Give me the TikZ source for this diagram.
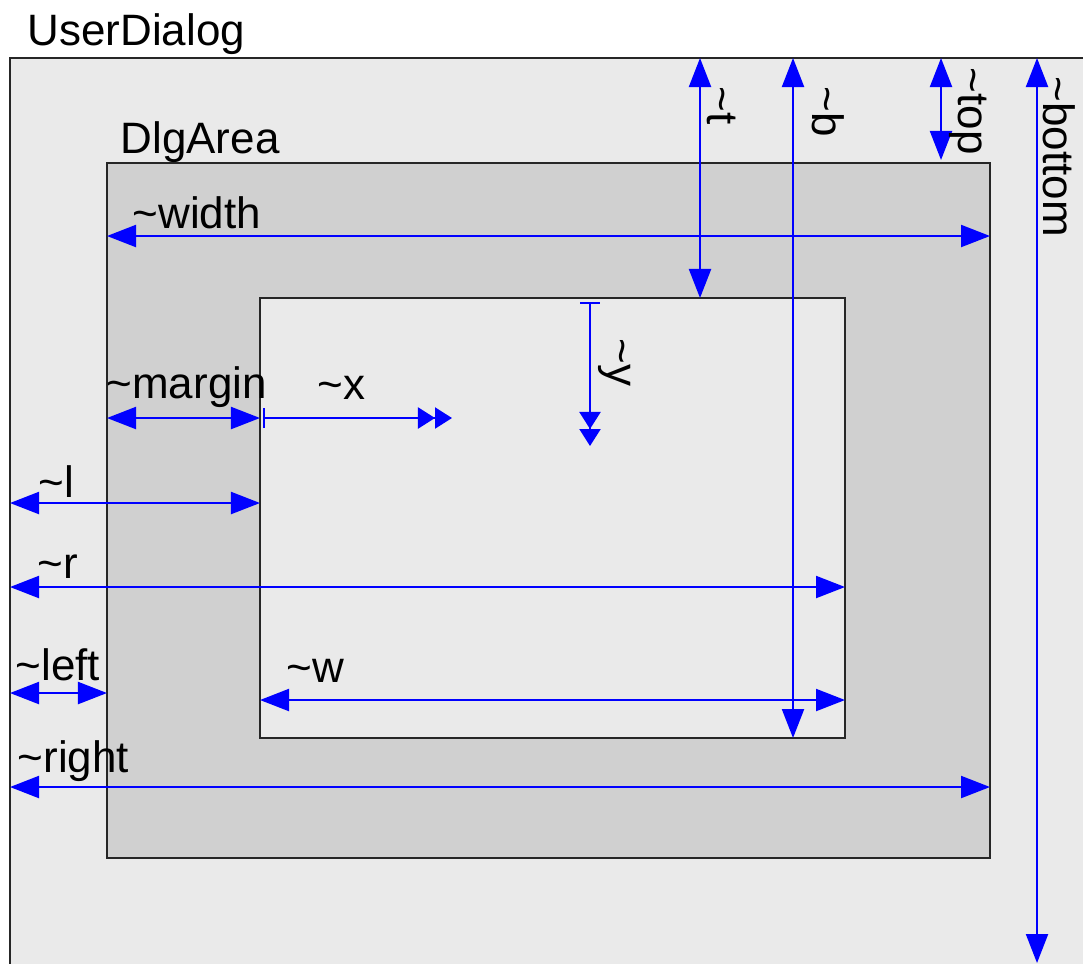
\documentclass[tikz,border=0pt]{standalone}
\usepackage{fontspec}
\setmainfont{Liberation Sans}
\usetikzlibrary{arrows.meta}

\newcommand{\tld}{\textasciitilde}
\definecolor{dlgpale}{HTML}{EAEAEA}
\definecolor{dlggray}{HTML}{D0D0D0}
\definecolor{dimblue}{HTML}{0000FF}

\tikzset{
  box/.style={draw=black!85, line width=0.6pt},
  lbl/.style={inner sep=0pt, font=\fontsize{12.5}{14}\selectfont},
  dimline/.style={dimblue, line width=0.6pt,
    {Triangle[length=2.9mm,width=2.2mm]}-{Triangle[length=2.9mm,width=2.2mm]}},
  offset/.style={dimblue, line width=0.6pt,
    {Bar[width=2mm]}-{Triangle[length=1.7mm,width=2.1mm]Triangle[length=1.7mm,width=2.1mm]}}
}

\begin{document}
\begin{tikzpicture}[x=0.01cm, y=-0.01cm]
  \clip (0,0) rectangle (1083,963);

  \coordinate (ud1) at (10,58);   % user dialog, top left
  \coordinate (ud2) at (1100,980);
  \coordinate (da1) at (107,163); % dlg area
  \coordinate (da2) at (990,858);
  \coordinate (in1) at (260,298); % inner rect
  \coordinate (in2) at (845,738);

  \draw[box, fill=dlgpale] (ud1) rectangle (ud2);
  \draw[box, fill=dlggray] (da1) rectangle (da2);
  \draw[box, fill=dlgpale] (in1) rectangle (in2);

  \node[lbl, anchor=base west] (user) at (27,45) {UserDialog};
  \node[lbl, anchor=base west] (dlg) at (120,153) {DlgArea};

  % horizontal measures
  \coordinate (wd1) at (107,236);  \coordinate (wd2) at (990,236);
  \coordinate (mg1) at (107,418);  \coordinate (mg2) at (260,418);
  \coordinate (x1) at (263,418);   \coordinate (x2) at (452,418);
  \coordinate (l1) at (10,503);    \coordinate (l2) at (260,503);
  \coordinate (r1) at (10,587);    \coordinate (r2) at (845,587);
  \coordinate (lf1) at (10,693);   \coordinate (lf2) at (107,693);
  \coordinate (w1) at (260,700);   \coordinate (w2) at (845,700);
  \coordinate (rt1) at (10,787);   \coordinate (rt2) at (990,787);

  \draw[dimline] (wd1) -- (wd2);
  \draw[dimline] (mg1) -- (mg2);
  \draw[offset] (x1) -- (x2);
  \draw[dimline] (l1) -- (l2);
  \draw[dimline] (r1) -- (r2);
  \draw[dimline] (lf1) -- (lf2);
  \draw[dimline] (w1) -- (w2);
  \draw[dimline] (rt1) -- (rt2);

  \node[lbl, anchor=base west] (width) at (132,228) {\tld width};
  \node[lbl, anchor=base west] (margin) at (106,398) {\tld margin};
  \node[lbl, anchor=base west] (xlbl) at (317,399) {\tld x};
  \node[lbl, anchor=base west] (llbl) at (38,497) {\tld l};
  \node[lbl, anchor=base west] (rlbl) at (37,578) {\tld r};
  \node[lbl, anchor=base west] (left) at (15,680) {\tld left};
  \node[lbl, anchor=base west] (wlbl) at (286,682) {\tld w};
  \node[lbl, anchor=base west] (right) at (17,772) {\tld right};

  % vertical measures
  \coordinate (t1) at (700,58);    \coordinate (t2) at (700,298);
  \coordinate (b1) at (793,58);    \coordinate (b2) at (793,738);
  \coordinate (tp1) at (941,58);   \coordinate (tp2) at (941,160);
  \coordinate (bt1) at (1037,58);  \coordinate (bt2) at (1037,963);
  \coordinate (y1) at (590,302);   \coordinate (y2) at (590,446);

  \draw[dimline] (t1) -- (t2);
  \draw[dimline] (b1) -- (b2);
  \draw[dimline] (tp1) -- (tp2);
  \draw[dimline] (bt1) -- (bt2);
  \draw[offset] (y1) -- (y2);

  \node[lbl, rotate=-90, anchor=base west] (tlbl) at (707,86) {\tld t};
  \node[lbl, rotate=-90, anchor=base west] (blbl) at (812,86) {\tld b};
  \node[lbl, rotate=-90, anchor=base west] (top) at (958,67) {\tld top};
  \node[lbl, rotate=-90, anchor=base west] (bottom) at (1043,76) {\tld bottom};
  \node[lbl, rotate=-90, anchor=base west] (ylbl) at (607,338) {\tld y};
\end{tikzpicture}
\end{document}
